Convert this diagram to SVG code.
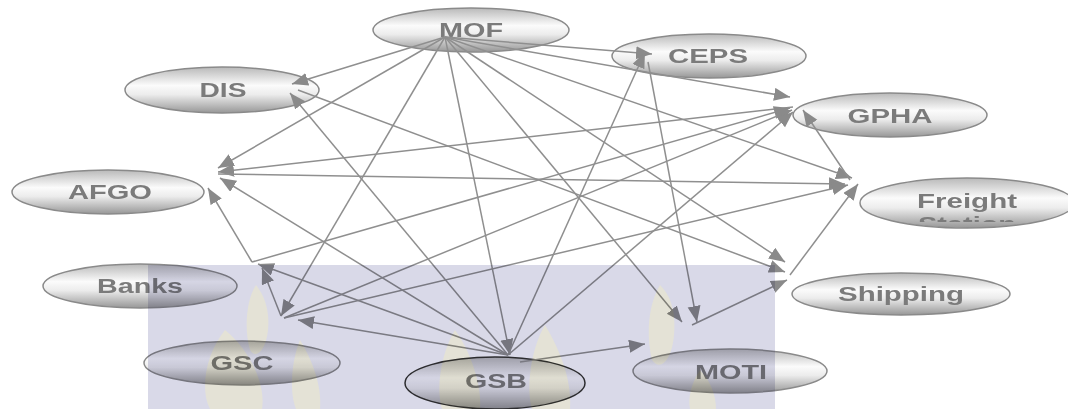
<svg xmlns="http://www.w3.org/2000/svg" width="1068" height="409" viewBox="0 0 1068 409">
<defs>
<linearGradient id="g" x1="0" y1="0" x2="0" y2="1">
<stop offset="0" stop-color="#b9b9b9"/>
<stop offset="0.4" stop-color="#fbfbfb"/>
<stop offset="0.6" stop-color="#ececec"/>
<stop offset="1" stop-color="#979797"/>
</linearGradient>
<marker id="a" markerUnits="userSpaceOnUse" markerWidth="18" markerHeight="14" refX="16" refY="6.5" orient="auto">
<path d="M0,0 L16,6.5 L0,13 z" fill="#8a8a8a"/>
</marker>
<clipPath id="fc"><rect x="850" y="210" width="220" height="12"/></clipPath>
</defs>
<style>
.n{fill:url(#g);stroke:#8a8a8a;stroke-width:1.5}
.t{font-family:"Liberation Sans",Arial,sans-serif;font-weight:bold;font-size:20px;fill:#7b7b7b;text-anchor:middle}
.e line{stroke:#8f8f8f;stroke-width:1.5;marker-end:url(#a)}
</style>
<rect width="1068" height="409" fill="#ffffff"/>
<g id="MOF"><ellipse class="n" cx="471" cy="30" rx="98" ry="22"/><text class="t" x="471" y="37" textLength="64" lengthAdjust="spacingAndGlyphs">MOF</text></g>
<g id="CEPS"><ellipse class="n" cx="709" cy="56" rx="97" ry="22"/><text class="t" x="708" y="63" textLength="80" lengthAdjust="spacingAndGlyphs">CEPS</text></g>
<g id="GPHA"><ellipse class="n" cx="890" cy="115" rx="97" ry="22"/><text class="t" x="890" y="123" textLength="85" lengthAdjust="spacingAndGlyphs">GPHA</text></g>
<g id="DIS"><ellipse class="n" cx="222" cy="90" rx="97" ry="23"/><text class="t" x="223" y="97" textLength="47" lengthAdjust="spacingAndGlyphs">DIS</text></g>
<g id="AFGO"><ellipse class="n" cx="108" cy="192" rx="96" ry="22"/><text class="t" x="110" y="199" textLength="84" lengthAdjust="spacingAndGlyphs">AFGO</text></g>
<g id="Freight"><ellipse class="n" cx="967" cy="203" rx="107" ry="25"/><text class="t" x="967" y="208" textLength="100" lengthAdjust="spacingAndGlyphs">Freight</text><text class="t" x="967" y="231" textLength="98" lengthAdjust="spacingAndGlyphs" clip-path="url(#fc)">Station</text></g>
<g id="Shipping"><ellipse class="n" cx="901" cy="294" rx="109" ry="21"/><text class="t" x="901" y="301" textLength="126" lengthAdjust="spacingAndGlyphs">Shipping</text></g>
<g id="Banks"><ellipse class="n" cx="140" cy="286" rx="97" ry="22"/><text class="t" x="140" y="293" textLength="86" lengthAdjust="spacingAndGlyphs">Banks</text></g>
<g id="GSC"><ellipse class="n" cx="242" cy="363" rx="98" ry="22"/><text class="t" x="242" y="370" textLength="63" lengthAdjust="spacingAndGlyphs">GSC</text></g>
<g id="GSB"><ellipse class="n" cx="495" cy="383" rx="90" ry="26" style="stroke:#333"/><text class="t" x="496" y="388" textLength="62" lengthAdjust="spacingAndGlyphs">GSB</text></g>
<g id="MOTI"><ellipse class="n" cx="730" cy="371" rx="97" ry="22"/><text class="t" x="731" y="379" textLength="72" lengthAdjust="spacingAndGlyphs">MOTI</text></g>
<g id="connectors" class="e">
<line x1="445" y1="37" x2="652" y2="54"/>
<line x1="445" y1="37" x2="790" y2="97"/>
<line x1="445" y1="37" x2="292" y2="84"/>
<line x1="445" y1="37" x2="218" y2="168"/>
<line x1="445" y1="37" x2="281" y2="316"/>
<line x1="445" y1="37" x2="510" y2="355"/>
<line x1="445" y1="37" x2="682" y2="322"/>
<line x1="445" y1="37" x2="785" y2="262"/>
<line x1="445" y1="37" x2="852" y2="178"/>
<line x1="298" y1="90" x2="785" y2="272"/>
<line x1="508" y1="355" x2="290" y2="93"/>
<line x1="793" y1="107" x2="218" y2="172"/>
<line x1="218" y1="174" x2="845" y2="184"/>
<line x1="508" y1="355" x2="220" y2="178"/>
<line x1="252" y1="262" x2="208" y2="188"/>
<line x1="252" y1="262" x2="790" y2="108"/>
<line x1="281" y1="316" x2="262" y2="268"/>
<line x1="508" y1="355" x2="258" y2="264"/>
<line x1="284" y1="318" x2="792" y2="110"/>
<line x1="284" y1="318" x2="848" y2="185"/>
<line x1="508" y1="355" x2="298" y2="320"/>
<line x1="508" y1="355" x2="645" y2="52"/>
<line x1="648" y1="62" x2="697" y2="322"/>
<line x1="508" y1="355" x2="793" y2="112"/>
<line x1="520" y1="362" x2="645" y2="344"/>
<line x1="692" y1="325" x2="787" y2="280"/>
<line x1="790" y1="275" x2="858" y2="184"/>
<line x1="850" y1="180" x2="803" y2="110"/>
</g>
<g id="watermark" style="mix-blend-mode:multiply">
<rect x="148" y="265" width="627" height="144" fill="#d9d9e8"/>
<g fill="#e4e2d6">
<path d="M256,285 C246,300 244,330 250,350 C256,360 266,350 268,330 C270,310 264,295 256,285 z"/>
<path d="M660,285 C648,305 646,335 652,360 C660,372 672,360 674,335 C676,310 670,295 660,285 z"/>
<path d="M225,330 C205,355 200,390 210,409 L262,409 C266,385 250,350 225,330 z"/>
<path d="M300,340 C290,365 290,395 296,409 L320,409 C322,385 312,360 300,340 z"/>
<path d="M455,330 C440,355 436,390 442,409 L480,409 C482,385 470,350 455,330 z"/>
<path d="M545,325 C530,350 526,390 532,409 L570,409 C572,380 560,350 545,325 z"/>
<path d="M700,370 C690,385 688,400 690,409 L716,409 C716,395 710,380 700,370 z"/>
</g>
</g>
</svg>
